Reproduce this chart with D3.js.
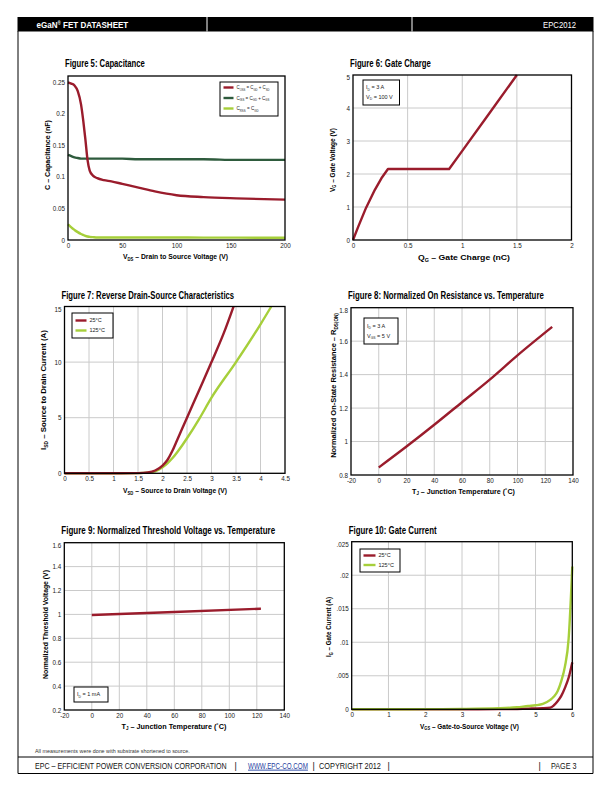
<!DOCTYPE html>
<html><head><meta charset="utf-8">
<script src="https://cdn.jsdelivr.net/npm/d3@7/dist/d3.min.js"></script>
<style>
body{margin:0;background:#fff}
svg text{font-family:"Liberation Sans Narrow","Liberation Sans",Arial,sans-serif;}
</style></head><body>
<svg id="page" width="612" height="792"></svg>
<script>
// ---------- DATA ----------
// Figure 5: Capacitance
const capVoltage = [0, 3, 6, 9, 12, 14, 16, 18, 20, 23, 27, 33, 40, 50, 65, 80, 100, 125, 155, 200];
const cOss = [0.25, 0.248, 0.245, 0.236, 0.215, 0.19, 0.16, 0.127, 0.11, 0.102, 0.098, 0.095, 0.093, 0.089, 0.083, 0.077, 0.071, 0.068, 0.066, 0.064];
const cIss = [0.135, 0.133, 0.131, 0.13, 0.129, 0.129, 0.129, 0.129, 0.129, 0.129, 0.129, 0.129, 0.129, 0.129, 0.128, 0.128, 0.128, 0.128, 0.127, 0.127];
const cRss = [0.025, 0.02, 0.016, 0.0125, 0.0095, 0.008, 0.0065, 0.0055, 0.005, 0.0045, 0.004, 0.004, 0.004, 0.004, 0.004, 0.004, 0.004, 0.0038, 0.0037, 0.0036];
const capXTicks = [0, 50, 100, 150, 200];
const capYTicks = [0, 0.05, 0.1, 0.15, 0.2, 0.25];
const capYLabels = ["0", "0.05", "0.1", "0.15", "0.2", "0.25"];

// Figure 6: Gate Charge
const gateCharge = [0, 0.05, 0.12, 0.2, 0.26, 0.32, 0.88, 1.0, 1.25, 1.5];
const gateVoltage = [0, 0.42, 0.98, 1.52, 1.87, 2.15, 2.15, 2.7, 3.85, 5.0];
const qgXTicks = [0, 0.5, 1, 1.5, 2];
const qgYTicks = [0, 1, 2, 3, 4, 5];

// Figure 7: Reverse Drain-Source Characteristics
const vsd25 = [0, 0.5, 1, 1.5, 1.7, 1.85, 2.0, 2.1, 2.2, 2.3, 2.5, 2.75, 3.0, 3.25, 3.45];
const isd25 = [0, 0, 0, 0.02, 0.08, 0.25, 0.7, 1.2, 2.0, 3.0, 5.0, 7.5, 10.0, 12.6, 15.0];
const vsd125 = [0, 0.5, 1, 1.5, 1.7, 1.85, 2.0, 2.1, 2.2, 2.3, 2.4, 2.5, 2.75, 3.0, 3.5, 4.0, 4.22];
const isd125 = [0, 0, 0, 0.02, 0.06, 0.18, 0.55, 0.9, 1.35, 1.9, 2.5, 3.15, 4.9, 6.8, 10.0, 13.4, 15.0];
const vsdXTicks = [0, 0.5, 1, 1.5, 2, 2.5, 3, 3.5, 4, 4.5];
const isdYTicks = [0, 5, 10, 15];

// Figure 8: Normalized On Resistance vs. Temperature
const tempR = [0, 20, 40, 60, 80, 100, 125];
const rdsOn = [0.845, 0.97, 1.1, 1.235, 1.37, 1.515, 1.685];
const tempXTicks = [-20, 0, 20, 40, 60, 80, 100, 120, 140];
const rdsYTicks = [0.8, 1, 1.2, 1.4, 1.6, 1.8];
const rdsYLabels = ["0.8", "1", "1.2", "1.4", "1.6", "1.8"];

// Figure 9: Normalized Threshold Voltage vs. Temperature
const tempV = [0, 60, 123];
const vthNorm = [0.995, 1.02, 1.048];
const vthYTicks = [0.2, 0.4, 0.6, 0.8, 1, 1.2, 1.4, 1.6];
const vthYLabels = ["0.2", "0.4", "0.6", "0.8", "1", "1.2", "1.4", "1.6"];

// Figure 10: Gate Current
const vgs = [0, 1, 2, 3, 4, 4.5, 4.8, 5, 5.2, 5.4, 5.5, 5.6, 5.7, 5.8, 5.9, 6];
const ig25 = [0, 0, 0, 0, 0.00002, 0.00005, 0.0001, 0.00012, 0.00015, 0.00025, 0.0006, 0.0012, 0.002, 0.0032, 0.0047, 0.007];
const ig125 = [0, 0, 0.00002, 0.00005, 0.00015, 0.0003, 0.0005, 0.0006, 0.0008, 0.0014, 0.0019, 0.0027, 0.0042, 0.0064, 0.0105, 0.0213];
const vgsXTicks = [0, 1, 2, 3, 4, 5, 6];
const igYTicks = [0, 0.005, 0.01, 0.015, 0.02, 0.025];
const igYLabels = ["0", ".005", ".01", ".015", ".02", ".025"];

// ---------- STYLE ----------
const RED = "#9a1c2c", DKGREEN = "#2e5b3d", LTGREEN = "#a6cf3a", GRID = "#cacaca";

const svg = d3.select("#page");

function addParts(t, parts, fs) {
  let offset = 0;
  parts.forEach(p => {
    if (typeof p === "string") {
      const ts = t.append("tspan").text(p);
      if (offset !== 0) { ts.attr("dy", -offset); offset = 0; }
    } else if (p.sup) {
      const d = fs * -0.35;
      t.append("tspan").attr("font-size", fs * 0.55).attr("dy", d - offset).text(p.sup);
      offset = d;
    } else {
      const d = fs * 0.25;
      t.append("tspan").attr("font-size", fs * 0.62).attr("dy", d - offset).text(p.sub);
      offset = d;
    }
  });
  return t;
}

// text placed in a group; optionally squeezed horizontally to a target width
function label(parent, x, y, parts, opt) {
  const fs = opt.fs || 7.5;
  const g = parent.append("g");
  const t = g.append("text").attr("x", 0).attr("y", 0)
    .attr("font-size", fs).attr("font-weight", opt.bold ? "bold" : "normal")
    .attr("fill", opt.fill || "#111").attr("text-anchor", opt.anchor || "start");
  addParts(t, parts, fs);
  if (opt.underline) t.attr("text-decoration", "underline");
  let sx = 1;
  if (opt.w) {
    const nat = t.node().getComputedTextLength();
    if (nat > 0) sx = opt.w / nat;
  }
  g.attr("transform", `translate(${x},${y})${opt.rotate ? " rotate(-90)" : ""} scale(${sx},1)`);
  return g;
}

function drawChart(c) {
  const g = svg.append("g");
  const x = d3.scaleLinear().domain(c.xDomain).range([c.left, c.right]);
  const y = d3.scaleLinear().domain(c.yDomain).range([c.bottom, c.top]);
  if (c.grid) {
    g.selectAll(null).data(c.xTicks.filter(v => v > c.xDomain[0] && v < c.xDomain[1])).join("line")
      .attr("x1", d => x(d)).attr("x2", d => x(d)).attr("y1", c.top).attr("y2", c.bottom)
      .attr("stroke", GRID).attr("stroke-width", 1);
    g.selectAll(null).data(c.yTicks.filter(v => v > c.yDomain[0] && v < c.yDomain[1])).join("line")
      .attr("y1", d => y(d)).attr("y2", d => y(d)).attr("x1", c.left).attr("x2", c.right)
      .attr("stroke", GRID).attr("stroke-width", 1);
  }
  const xl = c.xLabels || c.xTicks.map(String);
  const yl = c.yLabels || c.yTicks.map(String);
  const ax = g.append("g").attr("transform", `translate(0,${c.bottom})`)
    .call(d3.axisBottom(x).tickValues(c.xTicks).tickFormat((d, i) => xl[i]).tickSize(0).tickPadding(3.5));
  const ay = g.append("g").attr("transform", `translate(${c.left},0)`)
    .call(d3.axisLeft(y).tickValues(c.yTicks).tickFormat((d, i) => yl[i]).tickSize(0).tickPadding(3));
  [ax, ay].forEach(a => {
    a.select(".domain").remove();
    a.attr("font-family", null).attr("font-size", 6.3);
    a.selectAll("text").attr("fill", "#222");
  });
  ay.selectAll(".tick text").filter(d => d === c.yDomain[1]).attr("dy", "0.75em");
  const line = d3.line().x(d => x(d[0])).y(d => y(d[1])).curve(c.linear ? d3.curveLinear : d3.curveMonotoneX);
  c.series.forEach(s => {
    g.append("path").datum(d3.zip(s.x, s.y)).attr("d", line)
      .attr("fill", "none").attr("stroke", s.color).attr("stroke-width", 2.4)
      .attr("stroke-linejoin", "round");
  });
  g.append("rect").attr("x", c.left).attr("y", c.top)
    .attr("width", c.right - c.left).attr("height", c.bottom - c.top)
    .attr("fill", "none").attr("stroke", "#000").attr("stroke-width", 1.3);
  label(g, c.left - 3, c.titleY, [c.title], { fs: 10, bold: true, w: c.titleW, fill: "#000" });
  label(g, c.xLabelX, c.xLabelY, c.xLabel, { fs: 7.6, bold: true, anchor: "middle", w: c.xLabelW, fill: "#000" });
  label(g, c.yLabelX, c.yLabelY, c.yLabel, { fs: 7.6, bold: true, anchor: "middle", w: c.yLabelW, rotate: true, fill: "#000" });
  if (c.legend) {
    const L = c.legend;
    g.append("rect").attr("x", L.x).attr("y", L.y).attr("width", L.w).attr("height", L.h)
      .attr("fill", "#fff").attr("stroke", "#000").attr("stroke-width", 1);
    L.rows.forEach((r, i) => {
      const ry = L.y + L.first + i * L.step;
      let tx = L.x + 3;
      if (r.color) {
        g.append("line").attr("x1", L.x + 3.5).attr("x2", L.x + 3.5 + L.sw).attr("y1", ry).attr("y2", ry)
          .attr("stroke", r.color).attr("stroke-width", 2.4);
        tx = L.x + 3.5 + L.sw + 3;
      }
      label(g, tx, ry + L.fs * 0.35, r.parts, { fs: L.fs, fill: "#222", w: r.w });
    });
  }
}

// ---------- PAGE FRAME ----------
svg.append("rect").attr("x", 17.5).attr("y", 17).attr("width", 576).attr("height", 14.5).attr("fill", "#000");
[207, 412].forEach(xx => svg.append("line").attr("x1", xx).attr("x2", xx).attr("y1", 17).attr("y2", 31.5).attr("stroke", "#fff").attr("stroke-width", 1));
label(svg, 36.5, 28, ["eGaN", { sup: "®" }, " FET DATASHEET"], { fs: 9, bold: true, fill: "#fff", w: 92 });
label(svg, 576, 28, ["EPC2012"], { fs: 9, fill: "#fff", anchor: "end", w: 33 });
svg.append("line").attr("x1", 18).attr("x2", 18).attr("y1", 31).attr("y2", 773.5).attr("stroke", "#000").attr("stroke-width", 1);
svg.append("line").attr("x1", 593).attr("x2", 593).attr("y1", 31).attr("y2", 773.5).attr("stroke", "#000").attr("stroke-width", 1);
svg.append("line").attr("x1", 18).attr("x2", 593).attr("y1", 757).attr("y2", 757).attr("stroke", "#000").attr("stroke-width", 1);
svg.append("line").attr("x1", 18).attr("x2", 593).attr("y1", 773.5).attr("y2", 773.5).attr("stroke", "#000").attr("stroke-width", 1);
label(svg, 35, 753, ["All measurements were done with substrate shortened to source."], { fs: 5, fill: "#333", w: 155 });
const foot = [
  { t: "EPC – EFFICIENT POWER CONVERSION CORPORATION", x: 35, w: 192 },
  { t: "|", x: 234.5 },
  { t: "WWW.EPC-CO.COM", x: 248, w: 60, link: true },
  { t: "|", x: 312.5 },
  { t: "COPYRIGHT 2012", x: 319, w: 62 },
  { t: "|", x: 387.5 },
  { t: "|", x: 538.5 },
  { t: "PAGE 3", x: 551, w: 25.5 }
];
foot.forEach(f => {
  label(svg, f.x, 768.5, [f.t], { fs: 9, fill: f.link ? "#1f3f9f" : "#111", w: f.w, underline: f.link });
});

// ---------- CHARTS ----------
drawChart({
  left: 68, right: 285, top: 76, bottom: 240, xDomain: [0, 200], yDomain: [0, 0.26],
  xTicks: capXTicks, yTicks: capYTicks, yLabels: capYLabels, grid: false,
  title: "Figure 5: Capacitance", titleY: 67, titleW: 80,
  xLabel: ["V", { sub: "DS" }, " – Drain to Source Voltage (V)"], xLabelX: 175.5, xLabelY: 259, xLabelW: 105,
  yLabel: ["C – Capacitance (nF)"], yLabelX: 49.5, yLabelY: 155, yLabelW: 70,
  series: [
    { x: capVoltage, y: cIss, color: DKGREEN },
    { x: capVoltage, y: cRss, color: LTGREEN },
    { x: capVoltage, y: cOss, color: RED }
  ],
  legend: { x: 220, y: 82, w: 58, h: 34, first: 5.5, step: 10.5, sw: 10, fs: 5,
    rows: [
      { color: RED, w: 33, parts: ["C", { sub: "OSS" }, " = C", { sub: "GD" }, " + C", { sub: "SD" }] },
      { color: DKGREEN, w: 33, parts: ["C", { sub: "ISS" }, " = C", { sub: "GD" }, " + C", { sub: "GS" }] },
      { color: LTGREEN, w: 22, parts: ["C", { sub: "RSS" }, " = C", { sub: "GD" }] }
    ] }
});

drawChart({
  left: 353, right: 571.5, top: 75, bottom: 240, xDomain: [0, 2], yDomain: [0, 5],
  xTicks: qgXTicks, yTicks: qgYTicks, grid: true, linear: true,
  title: "Figure 6: Gate Charge", titleY: 67, titleW: 81,
  xLabel: ["Q", { sub: "G" }, " – Gate Charge (nC)"], xLabelX: 464, xLabelY: 260, xLabelW: 92,
  yLabel: ["V", { sub: "G" }, " – Gate Voltage (V)"], yLabelX: 334.5, yLabelY: 160, yLabelW: 64,
  series: [{ x: gateCharge, y: gateVoltage, color: RED }],
  legend: { x: 363, y: 80, w: 36.5, h: 25, first: 7.5, step: 9.5, sw: 0, fs: 5.5,
    rows: [
      { parts: ["I", { sub: "D" }, " = 3 A"] },
      { parts: ["V", { sub: "D" }, " = 100 V"] }
    ] }
});

drawChart({
  left: 64.5, right: 285, top: 306.5, bottom: 473.3, xDomain: [0, 4.5], yDomain: [0, 15],
  xTicks: vsdXTicks, yTicks: isdYTicks, grid: true,
  title: "Figure 7: Reverse Drain-Source Characteristics", titleY: 299, titleW: 173,
  xLabel: ["V", { sub: "SD" }, " – Source to Drain Voltage (V)"], xLabelX: 175, xLabelY: 493, xLabelW: 104,
  yLabel: ["I", { sub: "SD" }, " – Source to Drain Current (A)"], yLabelX: 46, yLabelY: 390, yLabelW: 120,
  series: [
    { x: vsd125, y: isd125, color: LTGREEN },
    { x: vsd25, y: isd25, color: RED }
  ],
  legend: { x: 72, y: 313, w: 41, h: 25, first: 7.5, step: 10, sw: 11, fs: 5.5,
    rows: [
      { color: RED, parts: ["25°C"] },
      { color: LTGREEN, parts: ["125°C"] }
    ] }
});

drawChart({
  left: 351, right: 573, top: 307.7, bottom: 475, xDomain: [-20, 140], yDomain: [0.8, 1.8],
  xTicks: tempXTicks, yTicks: rdsYTicks, yLabels: rdsYLabels, grid: true,
  title: "Figure 8: Normalized On Resistance vs. Temperature", titleY: 299, titleW: 196,
  xLabel: ["T", { sub: "J" }, " – Junction Temperature (˚C)"], xLabelX: 463.5, xLabelY: 493.5, xLabelW: 103,
  yLabel: ["Normalized On-State Resistance – R", { sub: "DS(ON)" }], yLabelX: 336, yLabelY: 385.5, yLabelW: 145,
  series: [{ x: tempR, y: rdsOn, color: RED }],
  legend: { x: 364, y: 318, w: 34, h: 26, first: 8, step: 10, sw: 0, fs: 5.5,
    rows: [
      { parts: ["I", { sub: "D" }, " = 3 A"] },
      { parts: ["V", { sub: "GS" }, " = 5 V"] }
    ] }
});

drawChart({
  left: 64.3, right: 284.3, top: 542.7, bottom: 710, xDomain: [-20, 140], yDomain: [0.2, 1.6],
  xTicks: tempXTicks, yTicks: vthYTicks, yLabels: vthYLabels, grid: true,
  title: "Figure 9: Normalized Threshold Voltage vs. Temperature", titleY: 534, titleW: 214,
  xLabel: ["T", { sub: "J" }, " – Junction Temperature (˚C)"], xLabelX: 174, xLabelY: 728.5, xLabelW: 105,
  yLabel: ["Normalized Threshold Voltage (V)"], yLabelX: 48, yLabelY: 624.5, yLabelW: 109,
  series: [{ x: tempV, y: vthNorm, color: RED }],
  legend: { x: 74, y: 687, w: 34, h: 15, first: 7.5, step: 10, sw: 0, fs: 5.5,
    rows: [
      { parts: ["I", { sub: "D" }, " = 1 mA"] }
    ] }
});

drawChart({
  left: 351.7, right: 572.3, top: 541.7, bottom: 709.3, xDomain: [0, 6], yDomain: [0, 0.025],
  xTicks: vgsXTicks, yTicks: igYTicks, yLabels: igYLabels, grid: true,
  title: "Figure 10: Gate Current", titleY: 534, titleW: 88,
  xLabel: ["V", { sub: "GS" }, " – Gate-to-Source Voltage (V)"], xLabelX: 469.5, xLabelY: 728.5, xLabelW: 99,
  yLabel: ["I", { sub: "G" }, " – Gate Current (A)"], yLabelX: 331, yLabelY: 627, yLabelW: 60,
  series: [
    { x: vgs, y: ig25, color: RED },
    { x: vgs, y: ig125, color: LTGREEN }
  ],
  legend: { x: 360, y: 549, w: 40, h: 23, first: 6.5, step: 9.5, sw: 12, fs: 5.5,
    rows: [
      { color: RED, parts: ["25°C"] },
      { color: LTGREEN, parts: ["125°C"] }
    ] }
});
</script>
</body></html>
